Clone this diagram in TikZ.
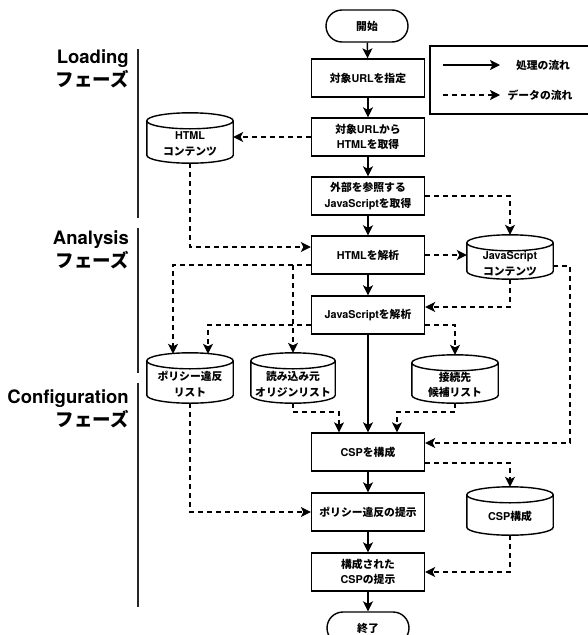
\documentclass[tikz,border=0pt]{standalone}
\usepackage{fontspec}
\setmainfont{TeX Gyre Heros}
\newfontfamily\jpf{Noto Sans CJK JP}
\usetikzlibrary{arrows.meta,shapes.misc,calc}
\newcommand\J[1]{{\jpf #1}}
\newcommand\drawcyl[1]{%
  \draw[line width=1.4pt] let \p1=(#1.north west), \p2=(#1.south east), \n1={(\x2-\x1)/2} in
    ({\x1+\n1*1pt},\y1-8pt) ellipse[x radius=\n1*1pt, y radius=8pt]
    (\x1,\y1-8pt) -- (\x1,\y2+8pt) arc[start angle=180,end angle=360,x radius=\n1*1pt,y radius=8pt] -- (\x2,\y1-8pt);}
\tikzset{
  box/.style={draw, line width=1.4pt, minimum width=113pt, minimum height=38pt, align=center,
    font=\bfseries\fontsize{10.8}{15.5}\selectfont, inner sep=2pt},
  term/.style={draw, line width=1.4pt, rounded rectangle, minimum width=86pt, minimum height=32pt,
    font=\bfseries\fontsize{10.8}{15.5}\selectfont, inner sep=2pt},
  cylnode/.style={minimum width=86pt, minimum height=50pt, inner sep=0pt},
  cyltext/.style={align=center, font=\bfseries\fontsize{10.8}{15.5}\selectfont, inner sep=1pt},
  phase/.style={anchor=east, align=right, font=\bfseries\fontsize{18.5}{23}\selectfont, inner sep=0pt},
  legtext/.style={font=\bfseries\fontsize{10.8}{13}\selectfont, inner sep=1pt},
  proc/.style={line width=1.4pt, -{Stealth[length=10pt,width=10pt,inset=2.5pt]}},
  data/.style={line width=1.3pt, dash pattern=on 5pt off 4pt, -{Stealth[length=10pt,width=10pt,inset=2.5pt]}},
  phline/.style={line width=1.3pt, draw=black!85},
}
\begin{document}
\begin{tikzpicture}[x=1pt,y=-1pt]
\useasboundingbox[fill=white] (0,0) rectangle (588,635);

% phase labels
\node[phase] (ph1) at (129,69) {Loading\\\J{フェーズ}};
\node[phase] (ph2) at (129,250) {Analysis\\\J{フェーズ}};
\node[phase] (ph3) at (129,409) {Configuration\\\J{フェーズ}};
\coordinate (l1a) at (138,49);  \coordinate (l1b) at (138,218);
\coordinate (l2a) at (138,228); \coordinate (l2b) at (138,373);
\coordinate (l3a) at (138,383); \coordinate (l3b) at (138,607);
\draw[phline] (l1a) -- (l1b);
\draw[phline] (l2a) -- (l2b);
\draw[phline] (l3a) -- (l3b);

% process nodes
\node[term] (start) at (367,26) {\J{開始}};
\node[box] (b1) at (368,78) {\J{対象}URL\J{を指定}};
\node[box] (b2) at (368,137) {\J{対象}URL\J{から}\\HTML\J{を取得}};
\node[box] (b3) at (368,196) {\J{外部を参照する}\\JavaScript\J{を取得}};
\node[box] (b4) at (368,255) {HTML\J{を解析}};
\node[box] (b5) at (368,315) {JavaScript\J{を解析}};
\node[box] (b6) at (368,452) {CSP\J{を構成}};
\node[box] (b7) at (368,512) {\J{ポリシー違反の提示}};
\node[box] (b8) at (368,572) {\J{構成された}\\CSP\J{の提示}};
\node[term] (end) at (368,628) {\J{終了}};

% data stores
\node[cylnode] (htmlc) at (190,138) {};
\drawcyl{htmlc}
\node[cyltext] (htmlct) at ([yshift=-6pt]htmlc.center) {HTML\\\J{コンテンツ}};

\node[cylnode, minimum height=44pt] (jsc) at (510,257) {};
\drawcyl{jsc}
\node[cyltext] (jsct) at ([yshift=-7pt]jsc.center) {JavaScript\\\J{コンテンツ}};

\node[cylnode] (pol) at (190,378) {};
\drawcyl{pol}
\node[cyltext] (polt) at ([yshift=-6pt]pol.center) {\J{ポリシー違反}\\\J{リスト}};

\node[cylnode, minimum width=84pt] (orig) at (293,378) {};
\drawcyl{orig}
\node[cyltext] (origt) at ([yshift=-6pt]orig.center) {\J{読み込み元}\\\J{オリジンリスト}};

\node[cylnode, minimum height=48pt] (conn) at (455,379) {};
\drawcyl{conn}
\node[cyltext] (connt) at ([yshift=-6pt]conn.center) {\J{接続先}\\\J{候補リスト}};

\node[cylnode, minimum height=48pt] (cspc) at (510,511) {};
\drawcyl{cspc}
\node[cyltext] (cspct) at ([yshift=-5pt]cspc.center) {CSP\J{構成}};

% legend
\coordinate (lgA) at (590,46);
\coordinate (lgB) at (430,114);
\coordinate (lgC) at (590,114);
\draw[line width=1.4pt] (lgA) -| (lgB) -- (lgC);
\coordinate (la1) at (443,65); \coordinate (la2) at (500,65);
\coordinate (lb1) at (443,95); \coordinate (lb2) at (500,95);
\draw[proc] (la1) -- (la2);
\draw[data] (lb1) -- (lb2);
\node[legtext] (lg1) at (543,65) {\J{処理の流れ}};
\node[legtext] (lg2) at (540,95) {\J{データの流れ}};

% process flow
\draw[proc] (start) -- (b1);
\draw[proc] (b1) -- (b2);
\draw[proc] (b2) -- (b3);
\draw[proc] (b3) -- (b4);
\draw[proc] (b4) -- (b5);
\draw[proc] (b5) -- (b6);
\draw[proc] (b6) -- (b7);
\draw[proc] (b7) -- (b8);
\draw[proc] (b8) -- (end);

% data flow
\draw[data] (b2.west) -- (b2.west -| htmlc.east);
\coordinate (b4in) at ([yshift=8pt]b4.west);
\draw[data] (htmlc.south) |- (b4in);
\draw[data] (b3.east) -| (jsc.north);
\draw[data] (b4.east) -- (b4.east -| jsc.west);
\coordinate (jscout) at ([yshift=-9pt]jsc.east);
\coordinate (b6in) at ([yshift=9pt]b6.east);
\coordinate (rx) at (570,0);
\draw[data] (jscout) -- (rx |- jscout) |- (b6in);
\coordinate (b5in) at ([yshift=8pt]b5.east);
\draw[data] (jsc.south) |- (b5in);

\coordinate (b4w) at ([yshift=-10pt]b4.west);
\coordinate (polinA) at ([xshift=-17pt,yshift=-1pt]pol.north);
\coordinate (polinB) at ([xshift=18pt,yshift=-1pt]pol.north);
\draw[data] (b4w) -| (polinA);
\draw[data] (orig.north |- b4w) -- (orig.north);
\coordinate (b5w) at ([yshift=-10pt]b5.west);
\draw[data] (b5w) -| (polinB);
\coordinate (b5e) at ([yshift=-10pt]b5.east);
\draw[data] (b5e) -| (conn.north);

\coordinate (y412) at (0,412);
\coordinate (b6nl) at ([xshift=-29pt]b6.north);
\coordinate (b6nr) at ([xshift=29pt]b6.north);
\draw[data] (orig.south) |- (b6nl |- y412) -- (b6nl);
\draw[data] (conn.south) |- (b6nr |- y412) -- (b6nr);

\coordinate (b6e) at ([yshift=-11pt]b6.east);
\draw[data] (b6e) -| (cspc.north);
\draw[data] (pol.south) |- (b7.west);
\draw[data] (cspc.south) |- (b8.east);
\end{tikzpicture}
\end{document}
